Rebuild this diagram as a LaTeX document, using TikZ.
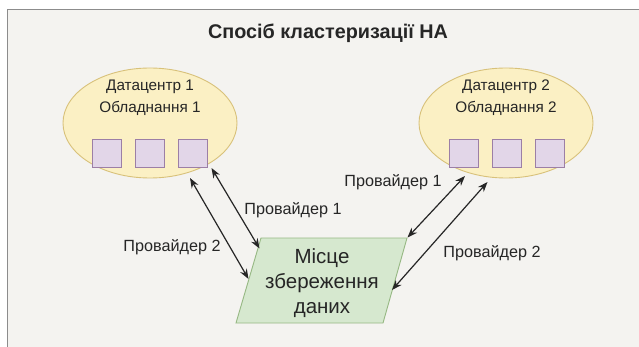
\documentclass[tikz,border=0pt]{standalone}
\usepackage{fontspec}
\setmainfont{Liberation Sans}
\usetikzlibrary{arrows.meta,shapes.geometric}
\definecolor{bg}{HTML}{F4F3F0}
\definecolor{frame}{HTML}{8C8C8C}
\definecolor{ellfill}{HTML}{FBF0C4}
\definecolor{elldraw}{HTML}{D8C17A}
\definecolor{sqfill}{HTML}{E2D6E8}
\definecolor{sqdraw}{HTML}{9C7FA6}
\definecolor{pfill}{HTML}{D6E8CF}
\definecolor{pdraw}{HTML}{96B883}
\definecolor{txt}{HTML}{262626}
\tikzset{
  dc/.style={ellipse, draw=elldraw, fill=ellfill, line width=0.9pt, minimum width=174pt, minimum height=110pt, inner sep=0pt},
  sq/.style={draw=sqdraw, fill=sqfill, line width=0.9pt, minimum width=29pt, minimum height=28pt, inner sep=0pt},
  lbl/.style={font=\fontsize{15.3}{18}\selectfont, text=txt, inner sep=0pt},
  plbl/.style={font=\fontsize{16.2}{19}\selectfont, text=txt, inner sep=0pt},
  conn/.style={line width=1.2pt, black!85, {Stealth[length=10pt,width=7.5pt]}-{Stealth[length=10pt,width=7.5pt]}},
}
\begin{document}
\begin{tikzpicture}[x=1pt,y=-1pt]
\useasboundingbox (0,0) rectangle (639,347);
\fill[white] (0,0) rectangle (639,347);
\fill[bg] (7,10) rectangle (639,347);
\draw[frame, line width=1pt] (7,347) -- (7,10) -- (639,10);

\node[font=\bfseries\fontsize{19.8}{22}\selectfont, text=txt] (title) at (328,33) {Спосіб кластеризації НА};

% data centres
\node[dc] (dc1) at (150,123) {};
\node[dc] (dc2) at (506,123) {};
\node[lbl] (t1a) at (150,87) {Датацентр 1};
\node[lbl] (t1b) at (150,108) {Обладнання 1};
\node[lbl] (t2a) at (506,87) {Датацентр 2};
\node[lbl] (t2b) at (506,108) {Обладнання 2};

\node[sq] (s11) at (107,153.5) {};
\node[sq] (s12) at (150,153.5) {};
\node[sq] (s13) at (192.5,153.5) {};
\node[sq] (s21) at (464,153.5) {};
\node[sq] (s22) at (507,153.5) {};
\node[sq] (s23) at (549.5,153.5) {};

% storage parallelogram
\coordinate (p1) at (261,238);
\coordinate (p2) at (407,238);
\coordinate (p3) at (383,323);
\coordinate (p4) at (236,323);
\draw[pdraw, fill=pfill, line width=0.9pt] (p1) -- (p2) -- (p3) -- (p4) -- cycle;
\node[font=\fontsize{20.5}{25}\selectfont, text=txt, align=center, inner sep=0pt] (store) at (322,283) {Місце\\збереження\\даних};

% arrow end points
\coordinate (a1t) at (190,178);
\coordinate (a1b) at (248.5,279);
\coordinate (a2t) at (211.5,168);
\coordinate (a2b) at (259.5,248.5);
\coordinate (a3t) at (465,176);
\coordinate (a3b) at (407.5,237.5);
\coordinate (a4t) at (487.5,182);
\coordinate (a4b) at (392,290);

\draw[conn] (a1t) -- (a1b);
\draw[conn] (a2t) -- (a2b);
\draw[conn] (a3t) -- (a3b);
\draw[conn] (a4t) -- (a4b);

\node[plbl] (l1) at (293,210) {Провайдер 1};
\node[plbl] (l2) at (172,247) {Провайдер 2};
\node[plbl] (l3) at (393,182) {Провайдер 1};
\node[plbl] (l4) at (492,253) {Провайдер 2};
\end{tikzpicture}
\end{document}
